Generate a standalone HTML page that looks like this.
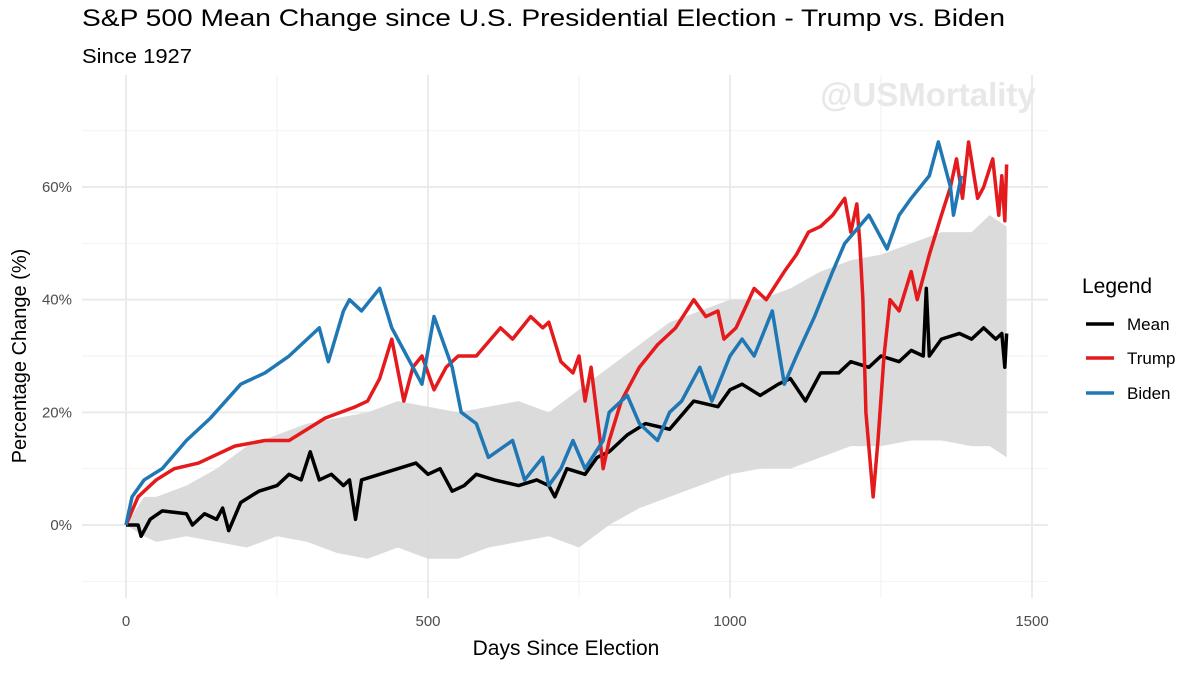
<!DOCTYPE html>
<html><head><meta charset="utf-8"><style>
body{margin:0;background:#fff;font-family:"Liberation Sans",sans-serif;}
svg text{font-family:"Liberation Sans",sans-serif;}
</style></head><body>
<svg id="c" width="1200" height="670" xmlns="http://www.w3.org/2000/svg">
<text x="82" y="26" font-size="24" fill="#000" textLength="923" lengthAdjust="spacingAndGlyphs">S&amp;P 500 Mean Change since U.S. Presidential Election - Trump vs. Biden</text>
<text x="82" y="63" font-size="20" fill="#000" textLength="110" lengthAdjust="spacingAndGlyphs">Since 1927</text>
<g id="grid"></g>
<g id="marks"></g>
<text x="928" y="106" font-size="33" font-weight="bold" fill="#e8e8e8" text-anchor="middle">@USMortality</text>
<text x="566" y="655" font-size="21" text-anchor="middle">Days Since Election</text>
<text transform="translate(26,356) rotate(-90)" font-size="20" text-anchor="middle">Percentage Change (%)</text>
<g>
<text x="1082" y="293" font-size="21">Legend</text>
<g><line x1="1086" y1="324" x2="1114" y2="324" stroke="#000" stroke-width="3.5"/><text x="1127" y="330" font-size="17">Mean</text></g>
<g><line x1="1086" y1="358" x2="1114" y2="358" stroke="#e41a1c" stroke-width="3.5"/><text x="1127" y="364" font-size="17">Trump</text></g>
<g><line x1="1086" y1="393" x2="1114" y2="393" stroke="#1f78b4" stroke-width="3.5"/><text x="1127" y="399" font-size="17">Biden</text></g>
</g>
</svg>
<script>
const xTicks=[0,500,1000,1500];
const yTicks=[0,20,40,60];
const bandDays=[0,30,50,100,150,200,250,300,350,400,450,500,550,600,650,700,750,800,850,900,950,1000,1050,1100,1150,1200,1250,1300,1350,1400,1430,1458];
const bandUpper=[0,5,5,7,10,14,16,18,19,20,22,21,20,21,22,20,24,28,32,36,38,40,40,42,45,47,48,50,52,52,55,53];
const bandLower=[0,-2,-3,-2,-3,-4,-2,-3,-5,-6,-4,-6,-6,-4,-3,-2,-4,0,3,5,7,9,10,10,12,14,14,15,15,14,14,12];
const meanDays=[0,20,25,40,60,100,110,130,150,160,170,190,220,250,270,290,305,320,340,360,370,380,390,420,450,480,500,520,540,560,580,610,650,680,700,710,730,760,780,800,830,860,900,940,980,1000,1020,1050,1080,1100,1125,1150,1180,1200,1230,1250,1280,1300,1320,1325,1330,1350,1380,1400,1420,1440,1450,1455,1458];
const meanVals=[0,0,-2,1,2.5,2,0,2,1,3,-1,4,6,7,9,8,13,8,9,7,8,1,8,9,10,11,9,10,6,7,9,8,7,8,7,5,10,9,12,13,16,18,17,22,21,24,25,23,25,26,22,27,27,29,28,30,29,31,30,42,30,33,34,33,35,33,34,28,34];
const trumpDays=[0,20,50,80,120,140,180,230,270,300,330,380,400,420,440,460,475,490,510,530,550,580,620,640,670,690,700,720,740,750,760,770,785,790,800,820,850,880,910,940,960,980,990,1010,1040,1060,1090,1110,1130,1150,1170,1190,1200,1210,1215,1220,1225,1233,1237,1245,1255,1265,1280,1300,1310,1330,1350,1365,1375,1385,1395,1410,1420,1435,1445,1450,1455,1458];
const trumpVals=[0,5,8,10,11,12,14,15,15,17,19,21,22,26,33,22,28,30,24,28,30,30,35,33,37,35,36,29,27,30,22,28,15,10,15,22,28,32,35,40,37,38,33,35,42,40,45,48,52,53,55,58,52,57,50,40,20,10,5,15,30,40,38,45,40,48,55,60,65,58,68,58,60,65,55,62,54,64];
const bidenDays=[0,10,30,60,100,140,190,230,270,300,320,335,360,370,390,420,440,460,490,510,540,555,580,600,640,660,690,700,720,740,760,790,800,830,850,880,900,920,950,970,1000,1020,1040,1070,1090,1110,1140,1170,1190,1230,1260,1280,1300,1330,1345,1365,1370,1383];
const bidenVals=[0,5,8,10,15,19,25,27,30,33,35,29,38,40,38,42,35,31,25,37,28,20,18,12,15,8,12,7,10,15,10,15,20,23,18,15,20,22,28,22,30,33,30,38,25,30,37,45,50,55,49,55,58,62,68,60,55,62];

const X=d=>126+d*0.604, Y=v=>525-v*5.633;
const NS="http://www.w3.org/2000/svg";
const grid=document.getElementById('grid'), marks=document.getElementById('marks');
function mk(tag,attrs,parent){const e=document.createElementNS(NS,tag);for(const k in attrs)e.setAttribute(k,attrs[k]);parent.appendChild(e);return e;}
[-10,10,30,50,70].forEach(v=>{const l=mk('line',{x1:82,x2:1048,y1:Y(v),y2:Y(v),stroke:'#f2f2f2','stroke-width':1},grid);});
[250,750,1250].forEach(v=>{const l=mk('line',{x1:X(v),x2:X(v),y1:75,y2:598,stroke:'#f2f2f2','stroke-width':1},grid);});
yTicks.forEach(v=>{const l=mk('line',{x1:82,x2:1048,y1:Y(v),y2:Y(v),stroke:'#ebebeb','stroke-width':2},grid);
const t=mk('text',{x:72,y:Y(v)+5,'font-size':15,fill:'#4d4d4d','text-anchor':'end'},grid);t.textContent=v+'%';});
xTicks.forEach(v=>{const l=mk('line',{x1:X(v),x2:X(v),y1:75,y2:598,stroke:'#ebebeb','stroke-width':2},grid);
const t=mk('text',{x:X(v),y:626,'font-size':15,fill:'#4d4d4d','text-anchor':'middle'},grid);t.textContent=v;});
let p='M'+bandDays.map((d,i)=>X(d)+','+Y(bandUpper[i])).join('L');
for(let i=bandDays.length-1;i>=0;i--)p+='L'+X(bandDays[i])+','+Y(bandLower[i]);
const band=mk('path',{d:p+'Z',fill:'#d9d9d9','fill-opacity':0.95},marks);


function line(days,vals,color,name){const l=mk('path',{d:'M'+days.map((d,i)=>X(d)+','+Y(vals[i])).join('L'),fill:'none',stroke:color,'stroke-width':3.5,'stroke-linejoin':'round'},marks);

}
line(meanDays,meanVals,'#000','mean-line');
line(trumpDays,trumpVals,'#e41a1c','trump-line');
line(bidenDays,bidenVals,'#1f78b4','biden-line');
</script>
</body></html>
